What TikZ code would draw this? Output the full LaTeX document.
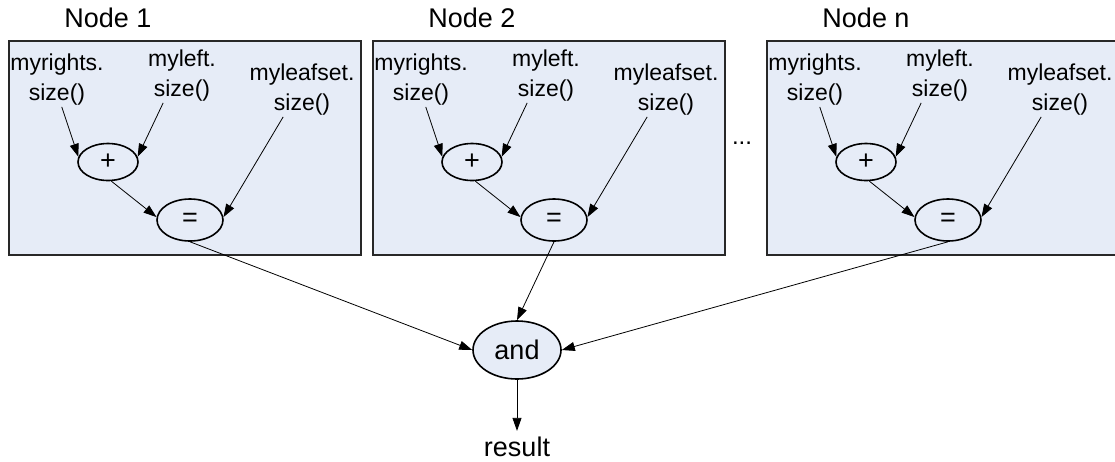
\documentclass[tikz,border=0pt]{standalone}
\usepackage{fontspec}
\setmainfont{Liberation Sans}
\usepackage{xcolor}
\definecolor{boxblue}{RGB}{230,236,247}
\definecolor{rimgray}{RGB}{40,40,40}
\usetikzlibrary{arrows.meta}
\usetikzlibrary{shapes.geometric}
\tikzset{
    panel/.style={draw=rimgray, line width=1.6pt, fill=boxblue, anchor=north west, inner sep=0pt, minimum width=352pt, minimum height=214pt},
    title/.style={font=\fontsize{27}{30}\selectfont},
    lbl/.style={align=center, inner sep=1pt, font=\fontsize{23}{30}\selectfont},
    op/.style={draw, ellipse, line width=1.6pt, inner sep=0pt, minimum width=60pt, minimum height=37pt, font=\fontsize{27}{30}\selectfont},
    eqop/.style={op, minimum width=66pt, minimum height=42pt},
    andop/.style={op, fill=boxblue, minimum width=88pt, minimum height=58pt, font=\fontsize{27}{30}\selectfont},
    arr/.style={-{Triangle[length=13pt,width=9pt]}, line width=0.8pt}
}
\begin{document}
\begin{tikzpicture}[x=1pt,y=-1pt]
    \useasboundingbox (0,0) rectangle (1115,461);
    \foreach \dx/\nm/\ttl in {0/a/1,364/b/2,758/c/n}{
        \begin{scope}[xshift=\dx]
            \node[panel] (box\nm) at (8,40) {};
            \node[title] (ttl\nm) at (108,18) {Node \ttl};
            \node[lbl] (rt\nm) at (57,80) {myrights.\\size()};
            \node[lbl] (lf\nm) at (182,76) {myleft.\\size()};
            \node[lbl] (ls\nm) at (302,90) {myleafset.\\size()};
            \node[op] (plus\nm) at (108,162) {+};
            \node[eqop] (eq\nm) at (190,220) {=};
            \draw[arr] (rt\nm.-80) -- (plus\nm.170);
            \draw[arr] (lf\nm.235) -- (plus\nm.10);
            \draw[arr] (plus\nm.280) -- (eq\nm.175);
            \draw[arr] (ls\nm.235) -- (eq\nm.5);
        \end{scope}
    }
    \node[font=\fontsize{24}{26}\selectfont] (dots) at (742,143) {...};
    \node[andop] (and) at (517,350) {and};
    \node[inner sep=1pt, font=\fontsize{27}{30}\selectfont] (result) at (517,447) {result};
    \draw[arr] (eqa.south) -- (and.west);
    \draw[arr] (eqb.south) -- (and.north);
    \draw[arr] (eqc.south) -- (and.east);
    \draw[arr, shorten >=5pt] (and.south) -- (result.north);
\end{tikzpicture}
\end{document}
